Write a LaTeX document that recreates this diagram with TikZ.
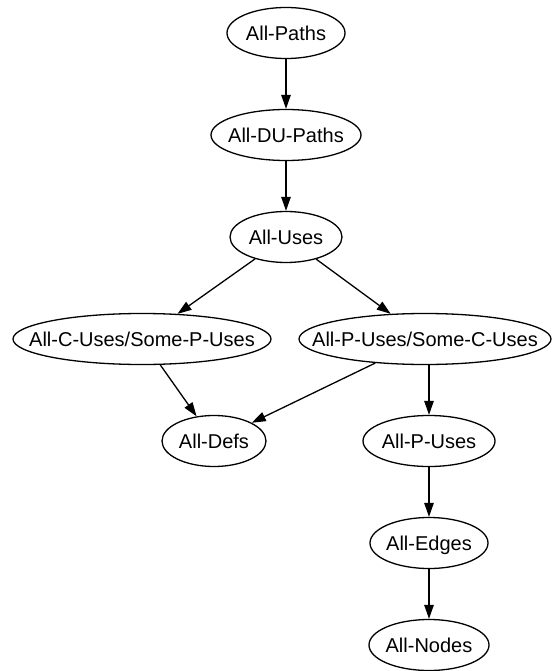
\documentclass[tikz,border=0pt]{standalone}
\usepackage{fontspec}
\setmainfont{Liberation Sans}
\usetikzlibrary{shapes.geometric,arrows.meta}

\tikzset{
  crit/.style={ellipse, draw, line width=1.3pt, inner sep=0pt,
    minimum height=51pt, text height=18.5pt, text depth=4.2pt,
    font=\fontsize{20}{24}\selectfont},
  subsumes/.style={line width=1.3pt,
    -{Triangle[length=14pt,width=9.5pt]}},
}
% criterion node: label set in a zero-width box so the ellipse size is set
% only by its half-width #4
\newcommand{\crit}[4]{\node[crit, minimum width=#4*2pt] (#1) at (#2) {\makebox[0pt]{#3}};}

\begin{document}
\begin{tikzpicture}[x=1pt,y=-1pt]
  \useasboundingbox (0,0) rectangle (552,671);

  \crit{paths}{286,33}{All-Paths}{59}
  \crit{dupaths}{286,135}{All-DU-Paths}{75}
  \crit{uses}{286,237}{All-Uses}{56}
  \crit{cuses}{142,339}{All-C-Uses/Some-P-Uses}{129}
  \crit{pcuses}{425,339}{All-P-Uses/Some-C-Uses}{126}
  \crit{defs}{214,441}{All-Defs}{52}
  \crit{puses}{429,441}{All-P-Uses}{66}
  \crit{edges}{429,543}{All-Edges}{59}
  \crit{nodes}{429,645}{All-Nodes}{60}

  \draw[subsumes] (paths) -- (dupaths);
  \draw[subsumes] (dupaths) -- (uses);
  \draw[subsumes] (uses) -- (cuses);
  \draw[subsumes] (uses) -- (pcuses);
  \draw[subsumes] (cuses) -- (defs);
  \draw[subsumes] (pcuses) -- (defs);
  \draw[subsumes] (pcuses.south -| puses) -- (puses);
  \draw[subsumes] (puses) -- (edges);
  \draw[subsumes] (edges) -- (nodes);
\end{tikzpicture}
\end{document}
